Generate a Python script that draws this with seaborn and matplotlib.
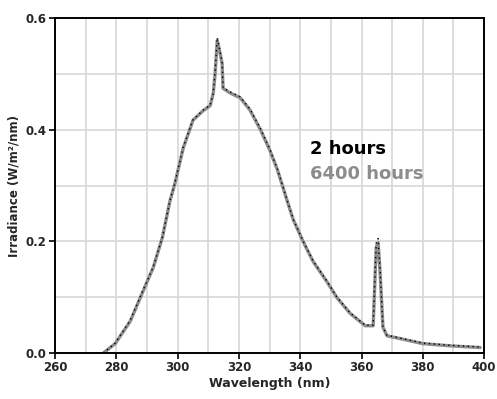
import matplotlib
matplotlib.use("Agg")
import matplotlib.pyplot as plt
import matplotlib.ticker as mtick
import pandas as pd
import seaborn as sns

sns.set_theme(style="white")
plt.rcParams["font.family"] = ["DejaVu Sans"]

# spectrum (wavelength nm, irradiance W/m2/nm)
WAVELENGTH = [
    275.7, 279.6, 284.5, 288.7, 292.0, 295.0, 297.5, 299.0, 301.8, 305.0,
    308.3, 310.6, 311.6, 312.2, 312.9, 313.9, 314.5, 314.8, 317.0, 320.4,
    323.6, 327.0, 330.0, 332.5, 334.4, 335.7, 337.7, 341.0, 344.2, 348.8,
    352.0, 356.3, 361.2, 363.8, 364.8, 365.4, 366.0, 367.0, 368.3, 372.6,
    380.0, 389.0, 398.7,
]
HOURS_2 = [
    0.000, 0.018, 0.059, 0.113, 0.154, 0.208, 0.274, 0.303, 0.369, 0.418,
    0.435, 0.444, 0.466, 0.502, 0.565, 0.538, 0.520, 0.475, 0.468, 0.459,
    0.437, 0.402, 0.366, 0.330, 0.297, 0.274, 0.240, 0.200, 0.165, 0.128,
    0.100, 0.072, 0.050, 0.050, 0.197, 0.205, 0.154, 0.047, 0.032, 0.027,
    0.018, 0.014, 0.011,
]
HOURS_6400 = [
    0.000, 0.017, 0.057, 0.111, 0.153, 0.207, 0.273, 0.302, 0.367, 0.417,
    0.434, 0.443, 0.465, 0.500, 0.560, 0.535, 0.518, 0.474, 0.466, 0.457,
    0.435, 0.400, 0.364, 0.329, 0.296, 0.273, 0.239, 0.199, 0.164, 0.127,
    0.099, 0.071, 0.049, 0.049, 0.190, 0.198, 0.150, 0.046, 0.031, 0.026,
    0.017, 0.013, 0.010,
]
SERIES = ["2 hours", "6400 hours"]
X_TICKS = [260, 280, 300, 320, 340, 360, 380, 400]
Y_TICKS = [0.0, 0.2, 0.4, 0.6]

df = pd.DataFrame({
    "wavelength": WAVELENGTH * 2,
    "irradiance": HOURS_6400 + HOURS_2,
    "series": [SERIES[1]] * len(WAVELENGTH) + [SERIES[0]] * len(WAVELENGTH),
})

fig = plt.figure(figsize=(4.97, 3.99), dpi=100)
ax = fig.add_axes([0.111, 0.115, 0.863, 0.84])

sns.lineplot(data=df[df["series"] == SERIES[1]], x="wavelength", y="irradiance",
             color="#8c8c8c", lw=2.4, ax=ax, legend=False, zorder=2)
sns.lineplot(data=df[df["series"] == SERIES[0]], x="wavelength", y="irradiance",
             color="black", lw=1.0, ls=(0, (1, 2.5)), ax=ax, legend=False, zorder=3)

ax.set_xlim(260, 400)
ax.set_ylim(0, 0.6)
ax.set_xticks(X_TICKS)
ax.set_yticks(Y_TICKS)
ax.xaxis.set_minor_locator(mtick.MultipleLocator(10))
ax.yaxis.set_minor_locator(mtick.MultipleLocator(0.1))
ax.yaxis.set_major_formatter(mtick.FormatStrFormatter("%.1f"))
ax.grid(which="both", color="#d5dcd5", lw=1.3, zorder=0)
ax.set_axisbelow(True)
for side in ["left", "bottom", "top", "right"]:
    ax.spines[side].set_color("black")
    ax.spines[side].set_linewidth(1.4)
ax.tick_params(axis="both", which="major", direction="out", length=4, width=1.2,
               color="black", labelsize=8.5, pad=2, bottom=True, left=True)
ax.tick_params(axis="both", which="minor", length=0)
for lab in ax.get_xticklabels() + ax.get_yticklabels():
    lab.set_fontweight("bold")

ax.set_xlabel("Wavelength (nm)", fontsize=9, fontweight="bold", labelpad=2)
ax.set_ylabel("Irradiance (W/m²/nm)", fontsize=8.5, fontweight="bold", labelpad=4)

ax.text(0.595, 0.61, SERIES[0], transform=ax.transAxes, fontsize=13,
        fontweight="bold", color="black", va="center", ha="left")
ax.text(0.595, 0.535, SERIES[1], transform=ax.transAxes, fontsize=13,
        fontweight="bold", color="#8c8c8c", va="center", ha="left")

fig.savefig("out.png", dpi=100)
